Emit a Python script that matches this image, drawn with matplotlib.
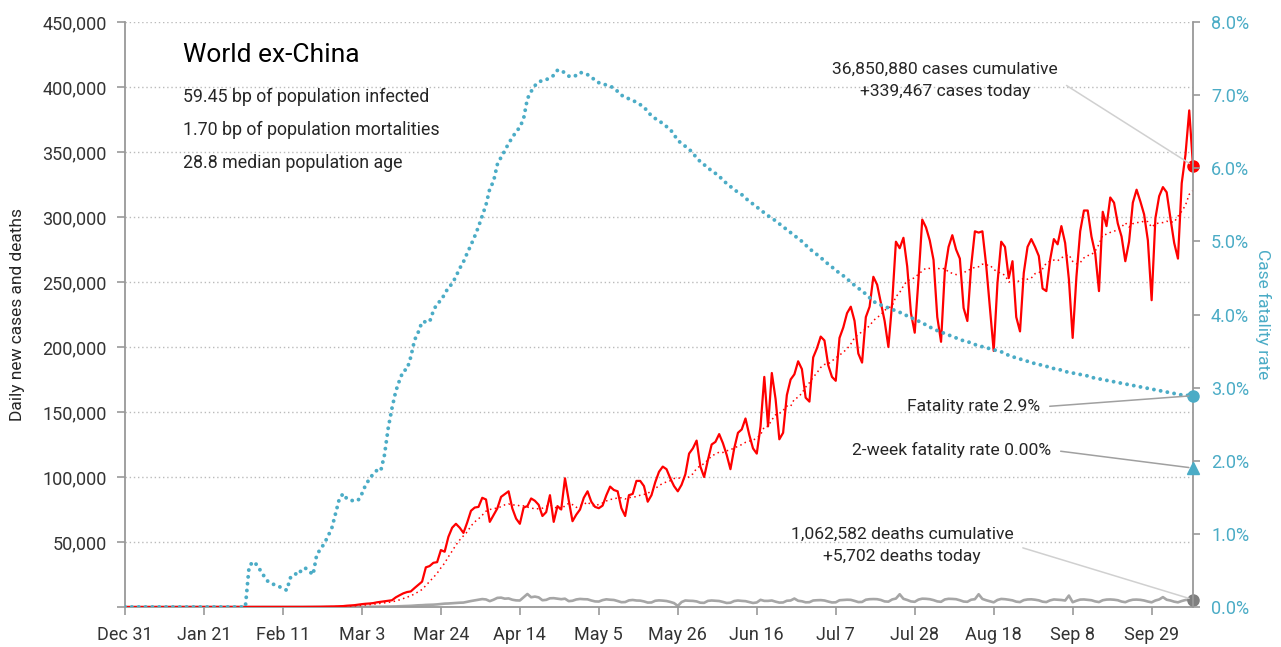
import matplotlib
matplotlib.use("Agg")
import matplotlib.pyplot as plt
from matplotlib.ticker import FuncFormatter
import numpy as np
import pandas as pd

plt.rcParams["font.family"] = ["Roboto", "DejaVu Sans"]

START = "2019-12-31"

# daily new cases, world ex-China, one row per week starting Dec 31
daily_cases = [
    0, 0, 0, 0, 0, 0, 0,
    0, 0, 0, 0, 0, 0, 1,
    0, 1, 0, 0, 1, 0, 0,
    2, 1, 2, 4, 5, 8, 10,
    15, 8, 12, 18, 14, 17, 20,
    25, 30, 22, 28, 35, 40, 45,
    30, 50, 40, 60, 70, 80, 90,
    100, 130, 170, 200, 250, 320, 400,
    450, 600, 700, 1000, 1200, 1400, 1800,
    2200, 2500, 2700, 3000, 3600, 4000, 4400,
    4800, 5200, 7400, 9000, 10500, 11500, 12000,
    14600, 17000, 19500, 30500, 31500, 34000, 34500,
    43800, 42500, 54000, 61000, 64000, 61000, 57000,
    65000, 74000, 76500, 77000, 84000, 82700, 65500,
    70700, 75800, 84700, 86800, 89000, 75800, 68000,
    64000, 76500, 77600, 83500, 81700, 78600, 70000,
    73000, 86000, 65500, 77600, 75000, 99000, 82000,
    66000, 71000, 75000, 84000, 89000, 81000, 77000,
    76000, 78000, 86000, 92600, 90000, 89000, 76000,
    70000, 86000, 87000, 97000, 97000, 93000, 81000,
    86000, 96000, 104000, 108000, 106000, 99000, 93000,
    89000, 94000, 102000, 118000, 122000, 128000, 108000,
    100000, 113000, 125000, 127000, 133000, 126000, 117000,
    106000, 122000, 134000, 136600, 145000, 132500, 122000,
    118000, 139000, 177000, 139000, 180000, 160000, 129000,
    134000, 163000, 175000, 179000, 189000, 183000, 161000,
    158000, 192000, 199000, 208000, 205000, 186000, 177000,
    174000, 207000, 215000, 226000, 231000, 220000, 195000,
    188000, 223000, 231000, 254000, 248000, 234000, 220000,
    200000, 234000, 281000, 276000, 284000, 262000, 226000,
    211000, 252000, 298000, 292000, 282000, 267000, 223000,
    204000, 258000, 277000, 286000, 275000, 268000, 230000,
    220000, 262000, 289000, 288000, 289000, 263000, 230000,
    197000, 249000, 281000, 277000, 253000, 266000, 223000,
    212000, 257000, 277000, 283000, 277000, 270000, 245000,
    243000, 267000, 283000, 279000, 293000, 280000, 252000,
    207000, 254000, 289000, 305000, 305000, 285000, 272000,
    243000, 304000, 293000, 315000, 311000, 295000, 285000,
    266000, 281000, 311000, 321000, 312000, 302000, 282000,
    236000, 299000, 316000, 323000, 319000, 299000, 280000,
    268000, 326000, 348000, 382000, 339467,
]

daily_deaths = [
    0, 0, 0, 0, 0, 0, 0,
    0, 0, 0, 0, 0, 0, 0,
    0, 0, 0, 0, 0, 0, 0,
    0, 0, 0, 0, 0, 0, 0,
    0, 0, 0, 0, 0, 1, 0,
    0, 0, 0, 1, 0, 0, 1,
    0, 1, 0, 1, 2, 1, 2,
    3, 4, 5, 8, 10, 12, 15,
    20, 25, 30, 40, 50, 60, 70,
    80, 100, 130, 150, 200, 250, 300,
    350, 400, 450, 600, 700, 800, 900,
    1100, 1300, 1400, 1600, 1700, 1800, 2000,
    2300, 2600, 2700, 2900, 3100, 3300, 3400,
    4000, 4600, 5100, 5600, 6100, 5800, 4500,
    5600, 7000, 7200, 6400, 6600, 5600, 5100,
    5000, 7500, 10000, 7500, 8000, 7400, 5200,
    5500, 6700, 6800, 6400, 6000, 6400, 4500,
    4800, 5800, 6200, 6000, 5900, 5000, 4300,
    4200, 5300, 5900, 5600, 5400, 4600, 3700,
    3800, 5100, 5400, 5000, 4900, 4300, 3400,
    3500, 4800, 5100, 4900, 4600, 3900, 3000,
    800, 3800, 5000, 4800, 4700, 4300, 3300,
    3200, 4700, 5000, 4800, 4600, 3900, 3100,
    3300, 4600, 5000, 4700, 4500, 3800, 3100,
    3500, 5500, 4700, 4700, 5000, 4100, 3400,
    3500, 4800, 5000, 6500, 4800, 4400, 3600,
    3700, 5000, 5200, 5300, 5000, 4200, 3500,
    3600, 5200, 5400, 5600, 5500, 4700, 3800,
    3900, 5600, 6000, 6100, 6000, 5400, 4300,
    4100, 5800, 6500, 9800, 6300, 5400, 4300,
    4000, 5700, 6400, 6300, 6000, 5300, 4300,
    4000, 5800, 6300, 6200, 6000, 5200, 4200,
    4000, 5600, 6000, 9800, 6200, 5200, 4400,
    3600, 5400, 6200, 6000, 5600, 5100, 4100,
    3800, 5300, 5800, 5900, 5600, 5100, 4100,
    3800, 5100, 5800, 5600, 5400, 5000, 8800,
    3700, 4800, 5700, 5800, 5500, 5200, 4300,
    3800, 5200, 5700, 5800, 5600, 5200, 4200,
    3700, 4900, 5600, 5700, 5500, 5000, 4200,
    3600, 5000, 5800, 7600, 5600, 5000, 4100,
    3600, 4600, 5400, 5500, 5702,
]

# case fatality rate, percent
fatality_rate = [
    0, 0, 0, 0, 0, 0, 0,
    0, 0, 0, 0, 0, 0, 0,
    0, 0, 0, 0, 0, 0, 0,
    0, 0, 0, 0, 0, 0, 0,
    0, 0, 0, 0, 0, 0.55, 0.62,
    0.58, 0.5, 0.42, 0.35, 0.32, 0.3, 0.28,
    0.25, 0.23, 0.4, 0.42, 0.5, 0.48, 0.53,
    0.49, 0.44, 0.72, 0.79, 0.87, 0.97, 1.08,
    1.28, 1.48, 1.55, 1.48, 1.46, 1.45, 1.46,
    1.55, 1.67, 1.75, 1.82, 1.87, 1.86, 2.08,
    2.45, 2.72, 2.95, 3.1, 3.23, 3.25, 3.42,
    3.65, 3.76, 3.9, 3.9, 3.9, 4.05, 4.15,
    4.19, 4.28, 4.37, 4.42, 4.52, 4.63, 4.72,
    4.84, 4.95, 5.07, 5.2, 5.35, 5.5, 5.72,
    5.82, 6.05, 6.15, 6.24, 6.34, 6.42, 6.5,
    6.56, 6.68, 6.95, 7.05, 7.13, 7.18, 7.2,
    7.21, 7.24, 7.27, 7.34, 7.34, 7.3, 7.26,
    7.25, 7.27, 7.31, 7.3, 7.28, 7.25, 7.2,
    7.17, 7.15, 7.14, 7.12, 7.1, 7.05, 7.0,
    6.97, 6.95, 6.93, 6.9, 6.87, 6.84, 6.77,
    6.72, 6.68, 6.65, 6.61, 6.57, 6.53, 6.46,
    6.38, 6.34, 6.3, 6.26, 6.21, 6.14, 6.09,
    6.05, 6.0, 5.97, 5.93, 5.89, 5.84, 5.79,
    5.75, 5.71, 5.67, 5.64, 5.59, 5.55, 5.51,
    5.47, 5.43, 5.39, 5.35, 5.32, 5.28, 5.24,
    5.2, 5.16, 5.12, 5.08, 5.04, 5.0, 4.95,
    4.9, 4.86, 4.82, 4.78, 4.73, 4.69, 4.65,
    4.6, 4.57, 4.53, 4.49, 4.44, 4.4, 4.36,
    4.32, 4.28, 4.23, 4.18, 4.15, 4.13, 4.11,
    4.09, 4.07, 4.05, 4.03, 4.01, 3.98, 3.96,
    3.93, 3.91, 3.88, 3.86, 3.83, 3.8, 3.78,
    3.76, 3.74, 3.72, 3.7, 3.68, 3.66, 3.64,
    3.63, 3.61, 3.59, 3.57, 3.56, 3.55, 3.53,
    3.52, 3.5, 3.49, 3.47, 3.44, 3.42, 3.41,
    3.39, 3.38, 3.36, 3.34, 3.33, 3.32, 3.3,
    3.29, 3.28, 3.26, 3.25, 3.24, 3.22, 3.21,
    3.2, 3.19, 3.18, 3.17, 3.16, 3.14, 3.13,
    3.12, 3.11, 3.1, 3.09, 3.08, 3.07, 3.06,
    3.05, 3.04, 3.03, 3.02, 3.01, 3.0, 2.99,
    2.98, 2.97, 2.96, 2.95, 2.94, 2.93, 2.92,
    2.91, 2.9, 2.9, 2.89, 2.89,
]

two_week_marker = 1.9  # where the 2-week triangle sits on the right axis
cumulative_cases = 36850880
cumulative_deaths = 1062582
bp_infected = 59.45
bp_mortalities = 1.70
median_age = 28.8
region = "World ex-China"

assert len(daily_cases) == len(daily_deaths) == len(fatality_rate)

RED = "#ff0000"
BLUE = "#4bacc6"
GREY_LINE = "#a6a6a6"
SPINE = "#999999"
TEXT = "#262626"

dates = pd.date_range(START, periods=len(daily_cases), freq="D")
cases_avg = pd.Series(daily_cases).rolling(7, min_periods=1).mean()

W, H = 1281, 647
fig = plt.figure(figsize=(W / 100, H / 100), dpi=100)
ax = fig.add_axes([125 / W, 40 / H, 1068 / W, 585 / H])
ax2 = ax.twinx()

ax.plot(dates, daily_deaths, color=GREY_LINE, lw=1.9, zorder=2)
ax.plot(dates, cases_avg, color=RED, lw=1.1, ls=(0, (1, 2.2)), zorder=3)
ax.plot(dates, daily_cases, color=RED, lw=1.6, zorder=4)
ax2.plot(dates, fatality_rate, color=BLUE, lw=2.8, ls=(0, (0.01, 1.75)),
         dash_capstyle="round")

# end markers
ax.plot(dates[-1], daily_cases[-1], "o", color=RED, ms=8, clip_on=False, zorder=6)
ax.plot(dates[-1], daily_deaths[-1], "o", color="#7f7f7f", ms=8, clip_on=False, zorder=6)
ax2.plot(dates[-1], fatality_rate[-1], "o", color=BLUE, ms=8, clip_on=False, zorder=6)
ax2.plot(dates[-1], two_week_marker, "^", color=BLUE, ms=9, clip_on=False, zorder=6)

ax.set_xlim(dates[0], dates[-1])
ax.set_ylim(0, 450000)
ax2.set_ylim(0, 8)

tick_dates = pd.date_range(START, dates[-1], freq="21D")
ax.set_xticks(tick_dates)
ax.set_xticklabels([f"{d:%b} {d.day}" for d in tick_dates])
ax.set_yticks(np.arange(0, 450001, 50000))
ax.yaxis.set_major_formatter(FuncFormatter(lambda v, p: "" if v == 0 else f"{v:,.0f}"))
ax2.set_yticks(np.arange(0, 8.01, 1))
ax2.yaxis.set_major_formatter(FuncFormatter(lambda v, p: f"{v:.1f}%"))

ax.set_axisbelow(True)
ax.yaxis.grid(True, color="#bbbbbb", lw=1, ls=(0, (1, 2)))

ax.tick_params(axis="both", length=6, width=1.2, color=SPINE, labelsize=13,
               labelcolor="#333333")
ax.tick_params(axis="x", pad=8)
ax.tick_params(axis="y", pad=7)
ax2.tick_params(axis="y", length=5, width=1.2, color=SPINE, labelsize=13,
                labelcolor=BLUE, pad=8)

for s in ("top", "right"):
    ax.spines[s].set_visible(False)
for s in ("top", "left", "bottom"):
    ax2.spines[s].set_visible(False)
for sp in (ax.spines["left"], ax.spines["bottom"], ax2.spines["right"]):
    sp.set_color(SPINE)
    sp.set_linewidth(1.3)

ax.set_ylabel("Daily new cases and deaths", fontsize=12.5, color=TEXT, va="center")
ax.yaxis.set_label_coords(-0.1002, 0.5)
ax2.set_ylabel("Case fatality rate", fontsize=12.5, color=BLUE, rotation=270, va="center")
ax2.yaxis.set_label_coords(1.0655, 0.5)

# headline block
fig.text(183 / W, 1 - 55 / H, region, fontsize=19, color="black", va="center")
side_lines = [
    f"{bp_infected:.2f} bp of population infected",
    f"{bp_mortalities:.2f} bp of population mortalities",
    f"{median_age:.1f} median population age",
]
for i, line in enumerate(side_lines):
    fig.text(183 / W, 1 - (97 + 33 * i) / H, line, fontsize=12.8, color=TEXT, va="center")

# call-outs on the right
ax.annotate(f"{cumulative_cases:,} cases cumulative\n+{daily_cases[-1]:,} cases today",
            xy=(dates[-1], daily_cases[-1]), xytext=(945, H - 80),
            textcoords="figure pixels", ha="center", va="center", fontsize=12.6,
            color=TEXT, linespacing=1.6, annotation_clip=False, zorder=7,
            arrowprops=dict(arrowstyle="-", color="#d0d0d0", lw=1.1,
                            shrinkA=5, shrinkB=3, relpos=(1, 0.5)))
ax.annotate(f"{cumulative_deaths:,} deaths cumulative\n+{daily_deaths[-1]:,} deaths today",
            xy=(dates[-1], daily_deaths[-1]), xytext=(902, H - 545),
            textcoords="figure pixels", ha="center", va="center", fontsize=12.6,
            color=TEXT, linespacing=1.6, annotation_clip=False, zorder=7,
            arrowprops=dict(arrowstyle="-", color="#d0d0d0", lw=1.1,
                            shrinkA=5, shrinkB=3, relpos=(1, 0.5)))
cfr_total = 100 * cumulative_deaths / cumulative_cases
ax2.annotate(f"Fatality rate {cfr_total:.1f}%",
             xy=(dates[-1], fatality_rate[-1]), xytext=(1040, H - 407),
             textcoords="figure pixels", ha="right", va="center", fontsize=12.6,
             color=TEXT, annotation_clip=False, zorder=7,
             arrowprops=dict(arrowstyle="-", color="#a0a0a0", lw=1.1,
                             shrinkA=5, shrinkB=3, relpos=(1, 0.5)))
ax2.annotate("2-week fatality rate 0.00%",
             xy=(dates[-1], two_week_marker), xytext=(1051, H - 450),
             textcoords="figure pixels", ha="right", va="center", fontsize=12.6,
             color=TEXT, annotation_clip=False, zorder=7,
             arrowprops=dict(arrowstyle="-", color="#a0a0a0", lw=1.1,
                             shrinkA=5, shrinkB=3, relpos=(1, 0.5)))

fig.savefig("out.png", dpi=100)
